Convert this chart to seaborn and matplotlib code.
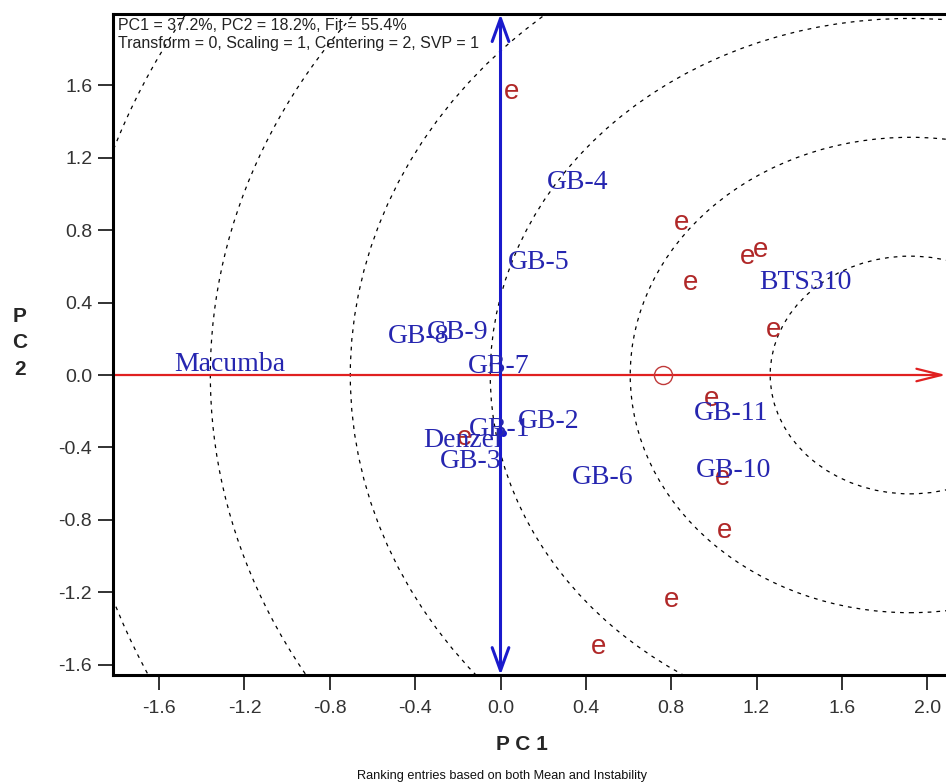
import seaborn as sns
import matplotlib.pyplot as plt
from matplotlib.patches import Circle

# environment scores (PC1, PC2) - drawn as red "e"
env_pc1 = [0.05, 0.85, 0.89, 1.16, 1.22, 1.28, 0.99, 1.04, 1.05, 0.80, 0.46, -0.17]
env_pc2 = [1.56, 0.84, 0.51, 0.65, 0.69, 0.25, -0.13, -0.57, -0.86, -1.24, -1.50, -0.35]

# genotype scores
gen_names = ['GB-4', 'GB-5', 'BTS310', 'GB-8', 'GB-9', 'Macumba', 'GB-7',
             'GB-2', 'GB-1', 'Denzel', 'GB-3', 'GB-6', 'GB-11', 'GB-10']
gen_pc1 = [0.36, 0.18, 1.43, -0.385, -0.20, -1.27, -0.01,
           0.225, -0.005, -0.18, -0.14, 0.48, 1.08, 1.09]
gen_pc2 = [1.065, 0.62, 0.51, 0.215, 0.235, 0.06, 0.045,
           -0.255, -0.30, -0.36, -0.48, -0.565, -0.21, -0.525]

# average environment point, ideal genotype and ring spacing
aec_pc1 = 0.76
ideal_pc1 = 1.92
ring_step = 0.656
n_rings = 6
dot_pc1, dot_pc2 = [0.01], [-0.32]

pc1_pct, pc2_pct = 37.2, 18.2
x_ticks = [-1.6, -1.2, -0.8, -0.4, 0.0, 0.4, 0.8, 1.2, 1.6, 2.0]
y_ticks = [-1.6, -1.2, -0.8, -0.4, 0.0, 0.4, 0.8, 1.2, 1.6]
xlim = (-1.816, 2.088)
ylim = (-1.656, 1.992)

sns.set_theme(style='white')
plt.rcParams['font.family'] = ['Liberation Sans', 'DejaVu Sans']

fig = plt.figure(figsize=(9.46, 7.84), dpi=100)
ax = fig.add_axes([0.1195, 0.139, 0.8805, 0.843])
ax.set_xlim(*xlim)
ax.set_ylim(*ylim)

# concentric rings round the ideal genotype
for k in range(1, n_rings + 1):
    ax.add_patch(Circle((ideal_pc1, 0), k * ring_step, fill=False, ec='black',
                        lw=0.9, ls=(0, (3, 4)), zorder=1))

# average environment axis (red) and its perpendicular (blue)
ax.annotate('', xy=(xlim[1], 0), xytext=(xlim[0], 0), annotation_clip=False,
            arrowprops=dict(arrowstyle='->,head_length=1.8,head_width=0.45',
                            mutation_scale=10, color='#e02020', lw=1.6,
                            shrinkA=0, shrinkB=0), zorder=2)
ax.annotate('', xy=(0, ylim[1]), xytext=(0, ylim[0]), annotation_clip=False,
            arrowprops=dict(arrowstyle='<->,head_length=1.65,head_width=0.6',
                            mutation_scale=10, color='#1a1acc', lw=2.2,
                            shrinkA=0, shrinkB=0), zorder=2)

ax.plot([aec_pc1], [0], marker='o', ms=13, mfc='none', mec='#c03a3a', mew=1, zorder=3)
sns.scatterplot(x=dot_pc1, y=dot_pc2, color='#1a1acc', s=25, linewidth=0, ax=ax, zorder=3)

for x, y in zip(env_pc1, env_pc2):
    ax.text(x, y, 'e', color='#b02828', fontsize=20, ha='center', va='center',
            family='Liberation Sans', zorder=4)

for name, x, y in zip(gen_names, gen_pc1, gen_pc2):
    ax.text(x, y, name, color='#2626b0', fontsize=20, ha='center', va='center',
            family='Liberation Serif', zorder=5)

ax.text(0.006, 0.983, f'PC1 = {pc1_pct}%, PC2 = {pc2_pct}%, Fit = {pc1_pct + pc2_pct:.1f}%',
        transform=ax.transAxes, fontsize=11.5, color='#222222', va='center', ha='left')
ax.text(0.006, 0.956, 'Transform = 0, Scaling = 1, Centering = 2, SVP = 1',
        transform=ax.transAxes, fontsize=11.5, color='#222222', va='center', ha='left')

ax.set_xticks(x_ticks)
ax.set_xticklabels([f'{t:.1f}' for t in x_ticks])
ax.set_yticks(y_ticks)
ax.set_yticklabels([f'{t:.1f}' for t in y_ticks])
ax.tick_params(bottom=True, left=True, direction='out', length=11, width=1.3,
               color='#222222', labelsize=14, labelcolor='#333333')
ax.tick_params(axis='x', pad=7)
ax.tick_params(axis='y', pad=4)
ax.grid(False)

for side in ['left', 'bottom', 'top']:
    ax.spines[side].set_color('black')
    ax.spines[side].set_linewidth(2.2)
ax.spines['right'].set_visible(False)

fig.text(0.552, 0.050, 'P C 1', fontsize=15, fontweight='bold', ha='center', va='center')
fig.text(0.021, 0.5625, 'P\nC\n2', fontsize=15, fontweight='bold', ha='center',
         va='center', linespacing=1.5)
fig.text(0.531, 0.010, 'Ranking entries based on both Mean and Instability',
         fontsize=9.2, ha='center', va='center', color='#111111')

fig.savefig('out.png', dpi=100)
